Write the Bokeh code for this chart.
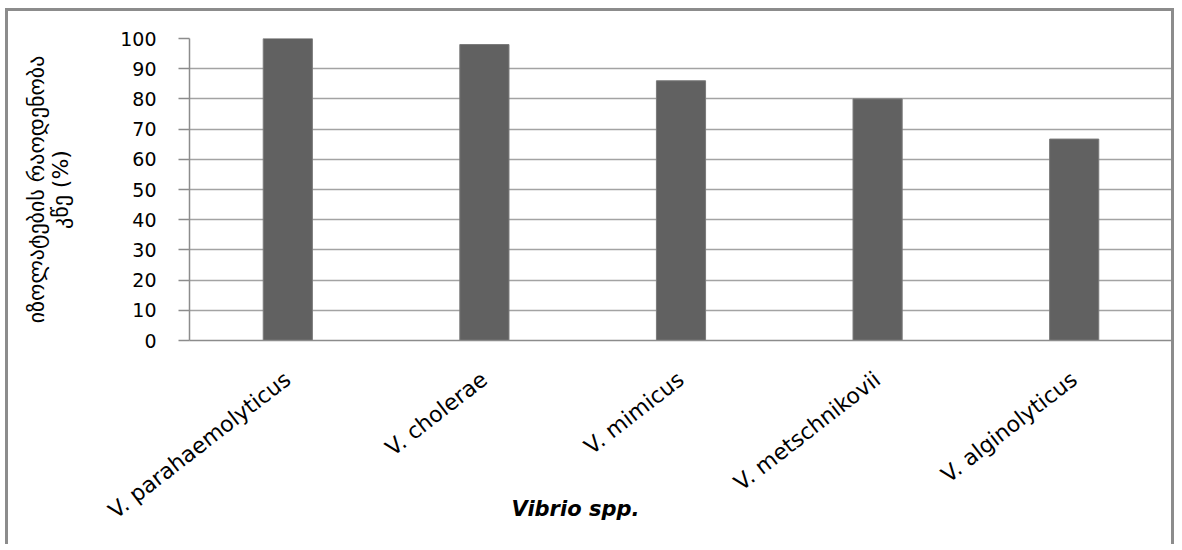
import math
from bokeh.plotting import figure
from bokeh.models import Range1d, FixedTicker, Title
from bokeh.embed import file_html
from bokeh.resources import INLINE

categories = ["V. parahaemolyticus", "V. cholerae", "V. mimicus", "V. metschnikovii", "V. alginolyticus"]
values = [100, 98, 86, 80, 66.7]
y_ticks = [0, 10, 20, 30, 40, 50, 60, 70, 80, 90, 100]
y_title = "იზოლატების რაოდენობა\nკწე (%)"
x_title = "Vibrio spp."

xs = [i + 0.5 for i in range(len(categories))]

p = figure(width=1169, height=536, output_backend="svg", toolbar_location=None,
           x_range=Range1d(0, len(categories)), y_range=Range1d(0, 100),
           min_border_left=181, min_border_right=5, min_border_top=27, min_border_bottom=207)
p.outline_line_color = None
p.background_fill_color = "white"
p.border_fill_color = "white"
p.styles = {"border-top": "3px solid #8c8c8c", "border-left": "3px solid #8c8c8c",
            "border-right": "3px solid #8c8c8c", "margin-left": "5px", "margin-top": "8px"}

p.vbar(x=xs, top=values, width=0.25, bottom=0, fill_color="#616161", line_color="#7a7a7a", line_width=1)

# grid
p.xgrid.grid_line_color = None
p.ygrid.ticker = FixedTicker(ticks=y_ticks)
p.ygrid.grid_line_color = "#a3a3a3"
p.ygrid.grid_line_width = 1.5

# y axis
p.yaxis.ticker = FixedTicker(ticks=y_ticks)
p.yaxis.axis_line_color = "#8c8c8c"
p.yaxis.axis_line_width = 1.5
p.yaxis.major_tick_line_color = "#8c8c8c"
p.yaxis.major_tick_line_width = 1.5
p.yaxis.major_tick_out = 11
p.yaxis.major_tick_in = 0
p.yaxis.minor_tick_line_color = None
p.yaxis.major_label_standoff = 22
p.yaxis.major_label_text_font = "DejaVu Sans"
p.yaxis.major_label_text_font_size = "19px"
p.yaxis.major_label_text_color = "black"
p.yaxis.axis_label = y_title
p.yaxis.axis_label_text_font = "DejaVu Sans"
p.yaxis.axis_label_text_font_size = "22px"
p.yaxis.axis_label_text_line_height = 0.95
p.yaxis.axis_label_text_font_style = "normal"
p.yaxis.axis_label_text_color = "black"
p.yaxis.axis_label_standoff = 44

# x axis
p.xaxis.ticker = FixedTicker(ticks=xs)
p.xaxis.major_label_overrides = {x: c for x, c in zip(xs, categories)}
p.xaxis.axis_line_color = "#8c8c8c"
p.xaxis.axis_line_width = 1.5
p.xaxis.major_tick_line_color = None
p.xaxis.minor_tick_line_color = None
p.xaxis.major_label_orientation = 0.66
p.xaxis.major_label_standoff = 30
p.xaxis.major_label_text_font = "DejaVu Sans"
p.xaxis.major_label_text_font_size = "22px"
p.xaxis.major_label_text_color = "black"

p.add_layout(Title(text=x_title, align="left", vertical_align="top", offset=322, standoff=-80,
                   text_font="DejaVu Sans", text_font_size="21px", text_font_style="bold italic",
                   text_color="black"), "below")

open("out.html", "w").write(file_html(p, INLINE))
